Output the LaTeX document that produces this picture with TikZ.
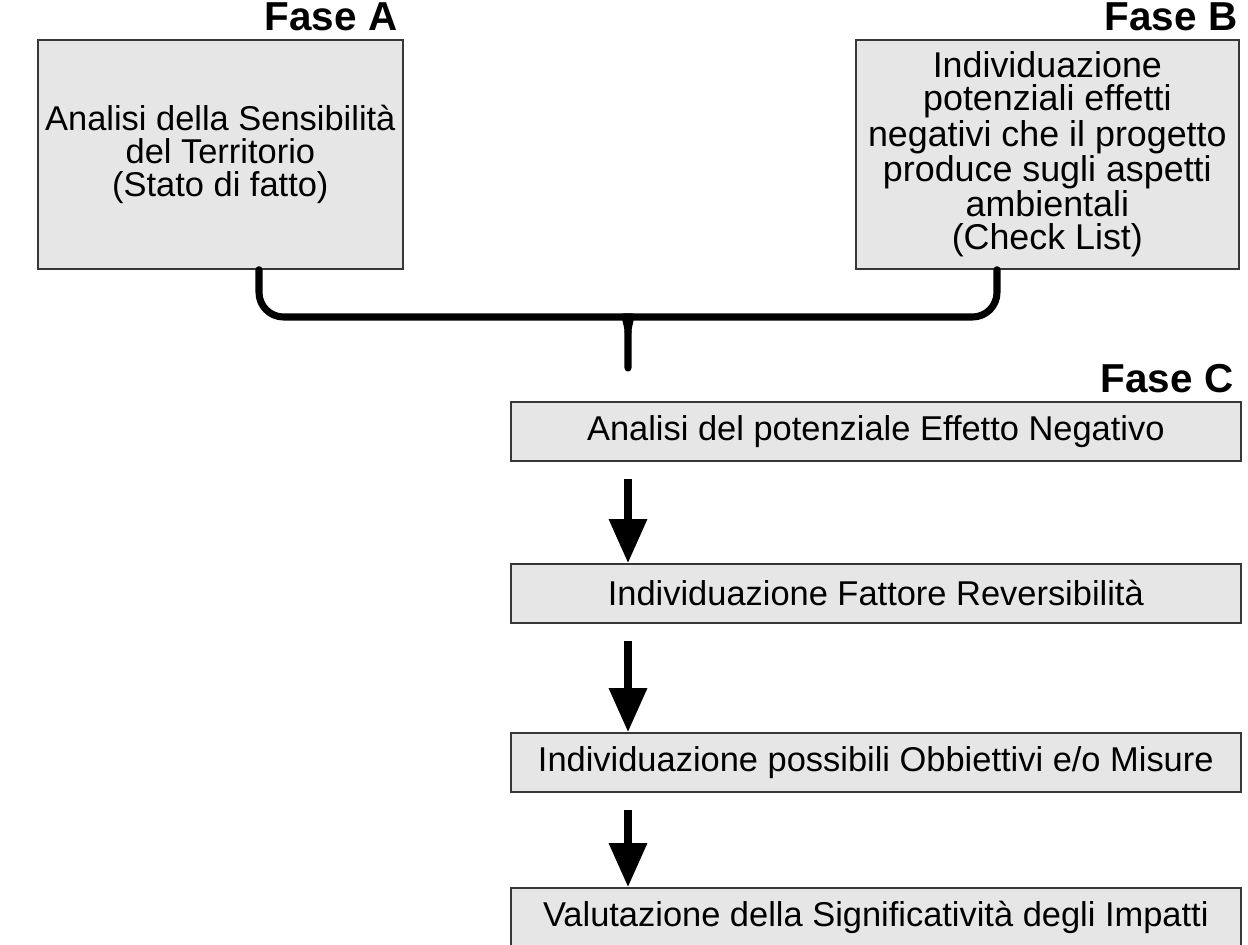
\documentclass[tikz,border=0pt]{standalone}
\usepackage{fontspec}
\setmainfont{Liberation Sans}
\usetikzlibrary{positioning, calc, arrows.meta}
\definecolor{boxgray}{RGB}{230,230,230}
\definecolor{edgegray}{RGB}{55,55,55}

\begin{document}
\begin{tikzpicture}[
    x=0.02cm, y=-0.02cm,
    box/.style={rectangle, draw=edgegray, fill=boxgray, line width=1pt, anchor=north west, inner sep=0pt, align=center, font=\fontsize{19.6}{19}\selectfont},
    phase/.style={anchor=base east, inner sep=0pt, font=\fontsize{23}{24}\selectfont\bfseries},
    arrow/.style={line width=4pt, -{Triangle[width=21pt,length=25pt]}, shorten <=10pt},
    brace/.style={line width=4pt, line cap=round, line join=round}
]
\useasboundingbox (0,0) rectangle (1248,944);

% Fase A and Fase B
\node[box, minimum width=7.3cm, minimum height=4.58cm] (sensib) at (37,39) {Analisi della Sensibilità\\del Territorio\\(Stato di fatto)};
\node[box, minimum width=7.66cm, minimum height=4.58cm, font=\fontsize{20.4}{19}\selectfont] (effetti) at (855,39) {Individuazione\\potenziali effetti\\negativi che il progetto\\produce sugli aspetti\\ambientali\\(Check List)};
\node[phase] (faseA) at ($(sensib.north east)+(-6,-9)$) {Fase A};
\node[phase] (faseB) at ($(effetti.north east)+(-2,-9)$) {Fase B};

% Brace joining the two phases
\coordinate (braceL) at ($(sensib.south west)+(222,0)$);
\coordinate (braceR) at ($(effetti.south west)+(142,0)$);
\coordinate (mid) at (628,317);
\coordinate (tip) at (628,368);
\draw[brace, rounded corners=14pt] (braceL) |- ($(mid)+(-20,0)$) [sharp corners] .. controls ($(mid)+(-7,0)$) and ($(mid)+(0,4)$) .. ($(mid)+(0,15)$) -- (tip);
\draw[brace, rounded corners=14pt] (braceR) |- ($(mid)+(20,0)$) [sharp corners] .. controls ($(mid)+(7,0)$) and ($(mid)+(0,4)$) .. ($(mid)+(0,15)$);

% Fase C
\node[box, minimum width=14.6cm, minimum height=1.18cm] (negativo) at (510,401) {Analisi del potenziale Effetto Negativo};
\node[box, minimum width=14.6cm, minimum height=1.18cm] (revers) at (510,563) {Individuazione Fattore Reversibilità};
\node[box, minimum width=14.6cm, minimum height=1.18cm] (misure) at (510,732) {Individuazione possibili Obbiettivi e/o Misure};
\node[box, minimum width=14.6cm, minimum height=1.18cm] (impatti) at (510,887) {Valutazione della Significatività degli Impatti};
\node[phase] (faseC) at ($(negativo.north east)+(-8,-9)$) {Fase C};

% Arrows
\draw[arrow] (negativo.south -| tip) -- (revers.north -| tip);
\draw[arrow] (revers.south -| tip) -- (misure.north -| tip);
\draw[arrow] (misure.south -| tip) -- (impatti.north -| tip);

\end{tikzpicture}
\end{document}
